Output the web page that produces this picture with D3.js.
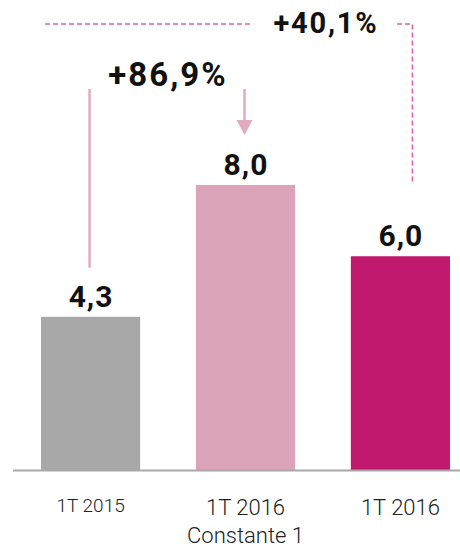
<!DOCTYPE html>
<html><head><meta charset="utf-8">
<script src="https://cdn.jsdelivr.net/npm/d3@7"></script>
<style>body{margin:0;background:#fff}svg{display:block}text{font-family:Roboto,"DejaVu Sans",sans-serif}</style>
</head><body>
<script>
const categories = ["1T 2015", "1T 2016\nConstante 1", "1T 2016"];
const values = [4.3, 8.0, 6.0];
const valueLabels = ["4,3", "8,0", "6,0"];
const colors = ["#a8a8a9", "#dca4bb", "#c0196e"];
const changeLabels = ["+86,9%", "+40,1%"];

const W = 460, H = 549;
const svg = d3.select("body").append("svg").attr("width", W).attr("height", H);

const x = d3.scaleBand().domain(d3.range(categories.length)).range([41, 450]).paddingInner(0.36).paddingOuter(0);
const y = d3.scaleLinear().domain([0, 8]).range([470, 185]);

svg.selectAll("rect.bar").data(values).join("rect").attr("class","bar")
  .attr("x", (d,i)=>x(i)).attr("width", x.bandwidth())
  .attr("y", d=>y(d)).attr("height", d=>y(0)-y(d))
  .attr("fill", (d,i)=>colors[i]);

// baseline
svg.append("line").attr("x1",13).attr("x2",W).attr("y1",y(0)+0.5).attr("y2",y(0)+0.5)
  .attr("stroke","#a8a8a9").attr("stroke-width",2);

// value labels
svg.selectAll("text.val").data(values).join("text").attr("class","val")
  .attr("x",(d,i)=>x(i)+x.bandwidth()/2+0.5).attr("y",d=>y(d)-10)
  .attr("text-anchor","middle").attr("font-weight","bold").attr("font-size",30)
  .attr("letter-spacing",1)
  .attr("fill","#111").text((d,i)=>valueLabels[i]);

// category labels
categories.forEach((c,i)=>{
  const lines = c.split("\n");
  const t = svg.append("text").attr("text-anchor","middle")
    .attr("font-size", i===0?19:22).attr("fill","#222").attr("font-weight",300);
  lines.forEach((l,j)=>{
    t.append("tspan").attr("x", x(i)+x.bandwidth()/2).attr("y", (i===0?512:515)+j*28).text(l);
  });
});

const cx = i => x(i)+x.bandwidth()/2;
// +86.9% annotation
const light = "#e2aac2";
svg.append("line").attr("x1",cx(0)-1).attr("x2",cx(0)-1).attr("y1",89).attr("y2",y(values[0])-49)
  .attr("stroke",light).attr("stroke-width",2.5);
svg.append("line").attr("x1",cx(1)-1).attr("x2",cx(1)-1).attr("y1",89).attr("y2",y(values[1])-64)
  .attr("stroke",light).attr("stroke-width",2.5);
svg.append("path").attr("d",`M${cx(1)-9},${y(values[1])-65}L${cx(1)+7},${y(values[1])-65}L${cx(1)-1},${y(values[1])-50}Z`)
  .attr("fill",light);
svg.append("text").attr("x",168).attr("y",86).attr("text-anchor","middle")
  .attr("font-weight","bold").attr("font-size",33).attr("letter-spacing",2)
  .attr("fill","#111").text(changeLabels[0]);

// +40.1% annotation
const dash = "#de64a6";
svg.append("line").attr("x1",45).attr("x2",250).attr("y1",24).attr("y2",24)
  .attr("stroke",dash).attr("stroke-width",1.6).attr("stroke-dasharray","5,3");
svg.append("path").attr("d",`M397,24H${cx(2)+12}V${y(values[2])-72}`)
  .attr("fill","none").attr("stroke",dash).attr("stroke-width",1.6).attr("stroke-dasharray","5,3");
svg.append("text").attr("x",326).attr("y",33).attr("text-anchor","middle")
  .attr("font-weight","bold").attr("font-size",29).attr("letter-spacing",1.8)
  .attr("fill","#111").text(changeLabels[1]);
</script>
</body></html>
